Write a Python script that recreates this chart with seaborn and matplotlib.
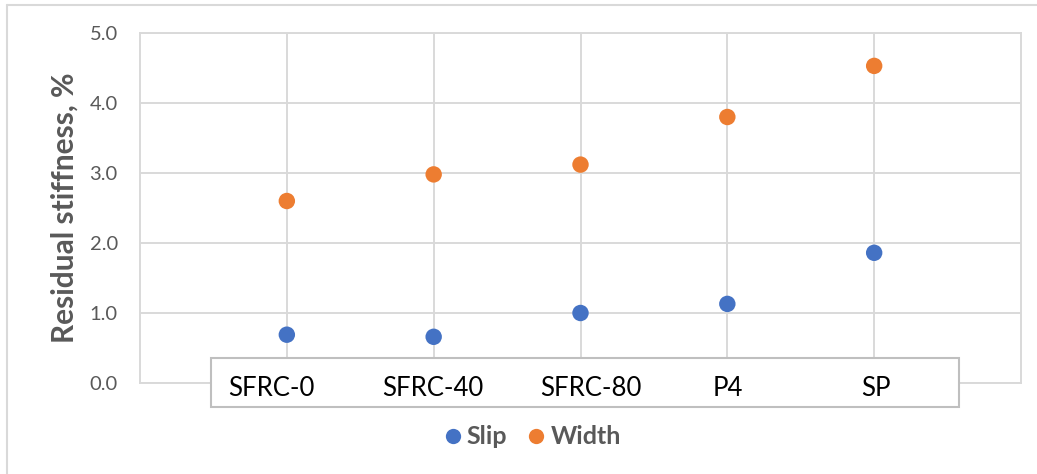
import numpy as np
import pandas as pd
import seaborn as sns
import matplotlib.pyplot as plt
import matplotlib.transforms as mtransforms
from matplotlib.patches import Rectangle
from matplotlib.lines import Line2D

# Data
categories = ["SFRC-0", "SFRC-40", "SFRC-80", "P4", "SP"]
slip = [0.69, 0.66, 1.00, 1.13, 1.86]
width = [2.60, 2.98, 3.12, 3.80, 4.53]
series_names = ["Slip", "Width"]
y_ticks = [0.0, 1.0, 2.0, 3.0, 4.0, 5.0]

sns.set_theme(style="white")
plt.rcParams["font.family"] = ["Lato", "DejaVu Sans"]

BLUE = "#4472C4"
ORANGE = "#ED7D31"
GRID = "#D9D9D9"
TEXT = "#595959"

pos = np.arange(1, len(categories) + 1)
df = pd.DataFrame({
    "pos": np.concatenate([pos, pos]),
    "value": slip + width,
    "series": [series_names[0]] * len(slip) + [series_names[1]] * len(width),
})

W, H = 1037, 474
fig = plt.figure(figsize=(W / 100, H / 100), dpi=100)
ax = fig.add_axes([140 / W, 1 - 383 / H, (1021 - 140) / W, (383 - 33) / H])

sns.scatterplot(data=df, x="pos", y="value", hue="series",
                palette=[BLUE, ORANGE], s=140, edgecolor="none",
                legend=False, ax=ax, zorder=3)

ax.set_xlim(0, len(categories) + 1)
ax.set_ylim(0, 5)
ax.set_xticks(pos)
ax.set_xticklabels([])
ax.set_yticks(y_ticks)
ax.set_yticklabels([f"{v:.1f}" for v in y_ticks])
ax.set_axisbelow(True)
ax.grid(True, color=GRID, linewidth=1.4)
for sp in ax.spines.values():
    sp.set_visible(True)
    sp.set_color(GRID)
    sp.set_linewidth(1.4)
    sp.set_zorder(0.6)
ax.tick_params(axis="both", length=0)
ax.tick_params(axis="y", labelsize=14.5, labelcolor=TEXT, pad=16)
ax.set_xlabel("")
ax.set_ylabel("Residual stiffness, %", fontsize=21.5, fontweight="bold",
              color=TEXT, labelpad=8)

# Category label box overlapping the bottom of the plot area
box = Rectangle((0.483, -0.34), 5.58 - 0.483, 0.70, transform=ax.transData,
                facecolor="white", edgecolor="#BFBFBF", linewidth=1.5,
                clip_on=False, zorder=1)
ax.add_patch(box)

# Category labels drawn on an overlay axis so they sit above the box
ax2 = ax.twiny()
ax2.set_xlim(ax.get_xlim())
ax2.xaxis.set_ticks_position("bottom")
ax2.xaxis.set_label_position("bottom")
ax2.set_xticks(pos)
ax2.set_xticklabels(categories)
ax2.tick_params(axis="x", length=0, labelsize=18.5, labelcolor="black", pad=-5)
for sp in ax2.spines.values():
    sp.set_visible(False)
ax2.grid(False)

# Small horizontal nudges (pixels) of the labels inside the box
label_nudge_px = [-15, -1, 10, 0, 2]
for lab, dx in zip(ax2.get_xticklabels(), label_nudge_px):
    lab.set_transform(lab.get_transform() +
                      mtransforms.ScaledTranslation(dx / 100, 0, fig.dpi_scale_trans))

# Legend
handles = [Line2D([], [], marker="o", linestyle="none", markersize=11,
                  markerfacecolor=c, markeredgecolor="none", label=n)
           for c, n in zip([BLUE, ORANGE], series_names)]
fig.legend(handles=handles, loc="center", bbox_to_anchor=(533 / W, 1 - 437 / H),
           ncol=2, frameon=False, handlelength=0.6, handletextpad=0.26,
           columnspacing=0.86, borderpad=0, borderaxespad=0,
           prop={"weight": "bold", "size": 18}, labelcolor=TEXT)

# Chart-area outline
fig.add_artist(Line2D([7 / W, 7 / W], [0, 1 - 5 / H], color=GRID, linewidth=1.5))
fig.add_artist(Line2D([7 / W, 1], [1 - 5 / H, 1 - 5 / H], color=GRID, linewidth=1.5))

fig.savefig("out.png", dpi=100)
